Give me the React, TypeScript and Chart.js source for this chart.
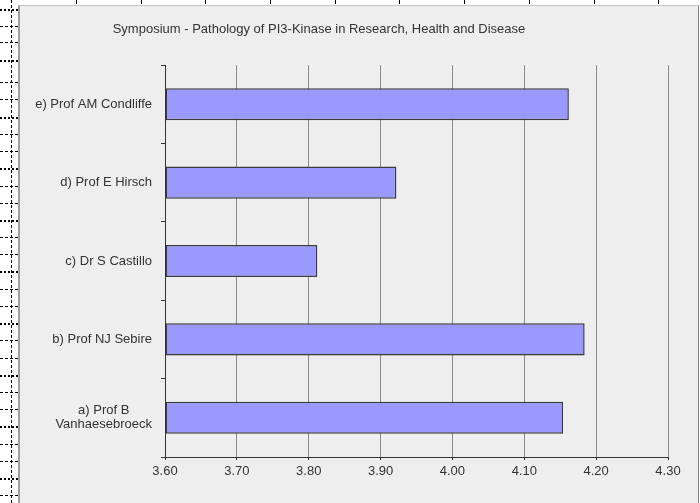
import React, { useEffect, useRef } from "react";
import { Chart, registerables } from "chart.js";

Chart.register(...registerables);

const chartTitle = "Symposium - Pathology of PI3-Kinase in Research, Health and Disease";
const speakers: (string | string[])[] = [
  "e) Prof AM Condliffe",
  "d) Prof E Hirsch",
  "c) Dr S Castillo",
  "b) Prof NJ Sebire",
  ["a) Prof B", "Vanhaesebroeck"],
];
const scores = [4.162, 3.922, 3.812, 4.184, 4.154];
const axisMin = 3.6;
const axisMax = 4.3;
const axisStep = 0.1;

const FONT = "'Liberation Sans', Arial, sans-serif";
const TEXT = "#333333";

const customText = {
  id: "customText",
  afterDraw(chart: any) {
    const ctx = chart.ctx;
    ctx.save();
    ctx.fillStyle = TEXT;
    ctx.font = `13px ${FONT}`;
    ctx.textBaseline = "middle";
    ctx.textAlign = "center";
    ctx.fillText(chartTitle, 299, 23);
    const y = chart.scales.y;
    const rightX = y.right - 13;
    speakers.forEach((lab, i) => {
      const lines = Array.isArray(lab) ? lab : [lab];
      const maxW = Math.max(...lines.map((l) => ctx.measureText(l).width));
      const cx = rightX - maxW / 2;
      const cy = y.getPixelForValue(i);
      const lh = 14;
      lines.forEach((l, j) => {
        ctx.fillText(l, cx, cy + (j - (lines.length - 1) / 2) * lh);
      });
    });
    ctx.restore();
  },
};

function ChartView() {
  const ref = useRef<HTMLCanvasElement | null>(null);
  useEffect(() => {
    if (!ref.current) return;
    const chart = new Chart(ref.current, {
      type: "bar",
      data: {
        labels: speakers.map((s) => (Array.isArray(s) ? s.join(" ") : s)),
        datasets: [
          {
            data: scores,
            base: axisMin,
            backgroundColor: "#9999FF",
            borderColor: "#3a3a3a",
            borderWidth: 1.5,
            borderSkipped: false,
            barPercentage: 0.41,
            categoryPercentage: 1,
          } as any,
        ],
      },
      options: {
        indexAxis: "y",
        animation: false,
        responsive: false,
        maintainAspectRatio: false,
        layout: { padding: { left: 0, right: 30, top: 59, bottom: 0 } },
        plugins: {
          legend: { display: false },
          title: { display: false },
          tooltip: { enabled: false },
        },
        scales: {
          x: {
            type: "linear",
            min: axisMin,
            max: axisMax,
            ticks: {
              stepSize: axisStep,
              color: TEXT,
              font: { family: FONT, size: 13 },
              padding: 4,
              callback: (v: any) => Number(v).toFixed(2),
            },
            grid: {
              color: "#8c8c8c",
              lineWidth: 1,
              tickLength: 3,
              tickColor: "#333333",
            },
            border: { color: "#333333", width: 1 },
            afterFit: (s: any) => {
              s.height = 46;
            },
          },
          y: {
            type: "category",
            offset: true,
            ticks: { display: false },
            grid: {
              offset: true,
              drawOnChartArea: false,
              drawTicks: true,
              tickLength: 4,
              tickColor: "#333333",
            },
            border: { color: "#333333", width: 1 },
            afterFit: (s: any) => {
              s.width = 145;
            },
          },
        },
      },
      plugins: [customText],
    });
    return () => chart.destroy();
  }, []);
  return <canvas ref={ref} width={678} height={497} style={{ display: "block", width: 678, height: 497 }} />;
}

const topMarks = [76, 141, 205, 270, 335, 399, 464, 529, 594, 658];
const leftMarks = [9, 26, 42, 60, 82, 99, 117, 134, 151, 168, 186, 203, 220, 237, 254, 271, 289, 306, 323, 340, 358, 375, 392, 409, 426, 444, 461, 478, 495];

export default function App() {
  return (
    <div style={{ position: "fixed", left: 0, top: 0, width: 700, height: 503, background: "#ffffff", overflow: "hidden" }}>
      <div style={{ position: "absolute", left: 11, top: 0, height: 503, width: 0, borderLeft: "1px dashed #000" }} />
      {leftMarks.map((y, i) => (
        <div key={"l" + i} style={{ position: "absolute", left: 0, top: y, width: 18, height: 0, borderTop: i % 3 === 0 ? "2px dotted #000" : "1px dashed #000" }} />
      ))}
      {topMarks.map((x, i) => (
        <div key={"t" + i} style={{ position: "absolute", left: x, top: 0, width: 0, height: 4, borderLeft: "1px solid #000" }} />
      ))}
      <div
        style={{
          position: "absolute",
          left: 18,
          top: 5,
          width: 681,
          height: 498,
          boxSizing: "border-box",
          background: "#EEEEEE",
          borderLeft: "2px solid #a0a0a0",
          borderTop: "1px solid #c4c4c4",
          borderRight: "1px solid #888888",
        }}
      >
        <ChartView />
      </div>
    </div>
  );
}
